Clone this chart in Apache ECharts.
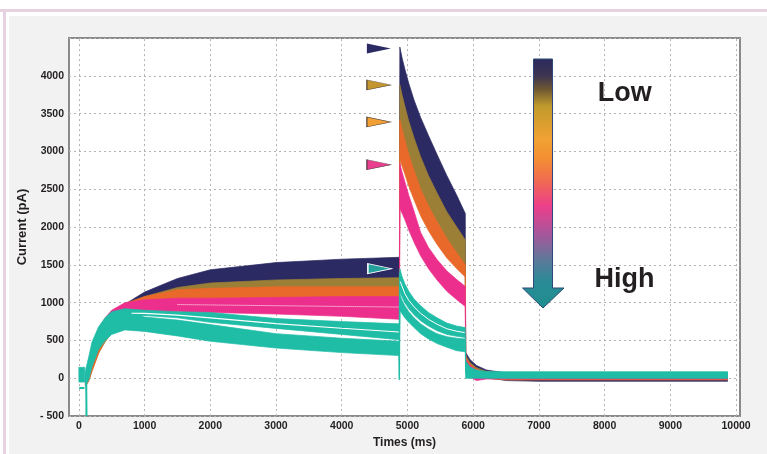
<!DOCTYPE html>
<html><head><meta charset="utf-8">
<script src="https://cdn.jsdelivr.net/npm/echarts@6/dist/echarts.min.js"></script>
<style>html,body{margin:0;padding:0;background:#fff}#c{width:767px;height:454px}</style>
</head><body><div id="c"></div>
<script>
// ---- data ----
const times = [100,150,200,300,400,500,700,1000,1500,2000,3000,4000,4878,
  4884,4920,4960,5020,5100,5200,5320,5450,5600,5750,5880,
  5886,5950,6050,6200,6500,7000,8000,9000,9870];
const navyLo = [-60,20,150,380,520,620,780,950,1100,1200,1270,1300,1320,
  3850,3700,3560,3360,3130,2880,2620,2380,2130,1940,1780,
  200,120,60,10,-30,-40,-40,-40,-40];
const navyHi = [40,180,400,620,760,850,980,1140,1320,1435,1530,1575,1600,
  4380,4230,4090,3900,3680,3450,3210,2960,2680,2420,2180,
  340,250,170,110,70,65,65,65,65];
const goldLo = [-100,-30,100,330,480,600,760,900,1020,1080,1150,1190,1200,
  3380,3250,3120,2930,2720,2490,2270,2060,1840,1650,1490,
  150,90,40,0,-20,-20,-20,-20,-20];
const goldHi = [0,120,330,580,730,830,960,1080,1200,1260,1300,1320,1330,
  3880,3740,3600,3400,3180,2930,2680,2450,2200,2000,1830,
  300,210,140,90,70,65,65,65,65];
const orangeLo = [-110,-40,90,330,500,620,800,900,980,1010,1040,1040,1040,
  2900,2800,2700,2540,2360,2150,1950,1770,1590,1450,1340,
  120,60,20,0,-20,-20,-20,-20,-20];
const orangeHi = [-10,110,330,590,760,870,990,1080,1170,1190,1210,1210,1210,
  3420,3290,3150,2960,2750,2500,2280,2070,1850,1660,1500,
  280,190,120,80,70,70,70,70,70];
const pinkLo = [-80,20,180,400,560,680,820,870,880,870,850,820,780,
  2250,2180,2100,1960,1800,1620,1450,1300,1150,1040,950,
  80,20,-30,-10,-10,-10,-10,-10,-10];
const pinkHi = [40,200,420,650,800,900,1000,1040,1060,1060,1070,1080,1080,
  2840,2720,2600,2420,2210,1930,1730,1570,1420,1305,1215,
  250,170,110,80,75,75,75,75,75];
const tealUpLo = [-40,50,250,450,580,680,780,830,800,740,660,580,510,
  1150,1070,1000,920,840,760,690,630,580,555,540,
  60,40,20,10,5,5,5,5,5];
const tealUpHi = [100,280,480,680,800,880,920,900,880,870,790,750,720,
  1450,1340,1250,1150,1050,960,870,800,730,690,670,
  230,150,110,90,85,85,85,85,85];
const tealMainLo = [-100,-20,150,380,500,580,640,620,560,490,400,340,300,
  900,850,800,740,670,590,520,460,410,365,350,
  0,0,0,0,0,0,0,0,0];
const tealMainHi = [60,230,430,620,740,820,870,810,770,710,590,530,490,
  1100,1030,960,880,800,720,650,590,550,530,520,
  200,140,90,80,80,80,80,80,80];
const tealStartT = [0, 90];
const tealStartLo = [-50, -50];
const tealStartHi = [145, 145];
const tealDash = [[5,-128],[85,-128]];
const tealSpike1 = [[112,-60],[116,-500]];
const tealSpike2 = [[4870,480],[4876,-20],[4882,1400]];
const tealStreakPre = [[800,860],[1000,858],[1500,835],[2000,800],[3000,722],[4000,662],[4870,612]];
const tealStreakPost = [[4890,1280],[4960,1120],[5020,1030],[5100,945],[5200,860],[5320,780],[5450,715],[5600,655],[5750,622],[5870,605]];
const pinkStreak = [[1500,975],[2000,970],[3000,960],[4000,950],[4870,942]];
const xTicks = [0,1000,2000,3000,4000,5000,6000,7000,8000,9000,10000];
const markerX = [4565,4565,4565,4565,4580];
const markerY = [4360,3880,3390,2825,1450];

// ---- styling ----
const C = {navy:'#2b2a63', gold:'#9b7f37', orange:'#e9692a', pink:'#ec2f8c', teal:'#1fbca6'};
const markerColors = ['#2b2a63','#c4962f','#f2a035','#e8408f','#26a09b'];
const markerBorders = ['#2b2a63','#3a3030','#3a3030','#3a3030','#ffffff'];
const markerBW = [0,0.7,0.7,0.7,1];
const FONT = 'Liberation Sans';

function band(t, lo, hi, color) {
  return {
    type:'custom', z:2, silent:true,
    data: t.map((x,i)=>[x, lo[i], hi[i]]),
    encode:{x:0, y:[1,2]},
    renderItem(params, api) {
      if (params.dataIndex !== 0) return null;
      const pts = [];
      for (let i=0;i<t.length;i++) pts.push(api.coord([t[i], hi[i]]));
      for (let i=t.length-1;i>=0;i--) pts.push(api.coord([t[i], lo[i]]));
      return {type:'polygon', shape:{points:pts}, style:{fill:color, stroke:color, lineWidth:0.7}};
    }
  };
}
function line(data, color, width, type) {
  return {type:'line', z:3, silent:true, data, symbol:'none', lineStyle:{color, width, type: type||'solid'}};
}

const chart = echarts.init(document.getElementById('c'), null, {renderer:'canvas'});
const option = {
  animation:false,
  backgroundColor:'#f1f2f1',
  grid:{left:69, right:27, top:38, bottom:33, show:true, backgroundColor:'#ffffff', borderColor:'#8a8a8a', borderWidth:2},
  xAxis:{
    type:'value', min:-150, max:10060,
    name:'Times (ms)', nameLocation:'middle', nameGap:15,
    nameTextStyle:{fontFamily:FONT, fontWeight:'bold', fontSize:12, color:'#231f20'},
    axisLine:{show:false}, axisTick:{show:false}, splitLine:{show:false},
    axisLabel:{customValues:xTicks, margin:5, fontFamily:FONT, fontWeight:'bold', fontSize:10.5, color:'#231f20',
      formatter:v => String(v)}
  },
  yAxis:{
    type:'value', min:-500, max:4500, interval:500,
    name:'Current (pA)', nameLocation:'middle', nameGap:33,
    nameTextStyle:{fontFamily:FONT, fontWeight:'bold', fontSize:13, color:'#231f20'},
    axisLine:{show:false}, axisTick:{show:false},
    splitLine:{show:true, lineStyle:{type:[2,3], color:'#b3b3b3', width:1}},
    axisLabel:{margin:5, fontFamily:FONT, fontWeight:'bold', fontSize:10.5, color:'#231f20',
      formatter:v => v===4500 ? '' : (v<0 ? '- '+(-v) : String(v))}
  },
  series:[
    {type:'line', z:1, silent:true, data:[[0,0]], symbol:'none', lineStyle:{opacity:0},
     markLine:{z:1, silent:true, symbol:['none','none'], label:{show:false}, animation:false,
       lineStyle:{type:[2,3], color:'#b3b3b3', width:1}, data:xTicks.map(v=>({xAxis:v}))}},
    band(times, navyLo, navyHi, C.navy),
    band(times, goldLo, goldHi, C.gold),
    band(times, orangeLo, orangeHi, C.orange),
    band(times, pinkLo, pinkHi, C.pink),
    band(times, tealUpLo, tealUpHi, C.teal),
    band(times, tealMainLo, tealMainHi, C.teal),
    band(tealStartT, tealStartLo, tealStartHi, C.teal),
    line(tealDash, C.teal, 2),
    line(tealSpike1, C.teal, 2),
    line(tealSpike2, C.teal, 1.5),
    line(tealStreakPre, '#ffffff', 1.2),
    line(tealStreakPost, '#ffffff', 1),
    line(pinkStreak, '#ffffff', 1, 'dotted'),
    {type:'scatter', z:6, silent:true, symbol:'path://M0,0L24,5L0,10Z', symbolSize:[24,10],
     data: markerY.map((y,i)=>({value:[markerX[i], y], itemStyle:{color:markerColors[i], borderColor:markerBorders[i], borderWidth:markerBW[i], opacity:1}}))}
  ],
  graphic:[
    {type:'rect', z:50, shape:{x:0,y:0,width:767,height:16}, style:{fill:'#ffffff'}},
    {type:'rect', z:50, shape:{x:0,y:0,width:9,height:454}, style:{fill:'#ffffff'}},
    {type:'rect', z:51, shape:{x:0,y:9,width:767,height:3}, style:{fill:'#e8d2e2'}},
    {type:'rect', z:51, shape:{x:3,y:9,width:3,height:445}, style:{fill:'#e8d2e2'}},
    {type:'polygon', z:100,
     shape:{points:[[533.5,59],[552.5,59],[552.5,288],[564,288],[543,308],[522.5,288],[533.5,288]]},
     style:{stroke:'#2d4a78', lineWidth:1,
       fill:new echarts.graphic.LinearGradient(0,0,0,1,[
         {offset:0,color:'#2b2a5e'},{offset:0.07,color:'#3d3550'},{offset:0.12,color:'#6a5532'},
         {offset:0.19,color:'#c09a2c'},{offset:0.32,color:'#f0a232'},{offset:0.40,color:'#f38f32'},
         {offset:0.49,color:'#f06a52'},{offset:0.59,color:'#ec3f8a'},{offset:0.70,color:'#a8559a'},
         {offset:0.81,color:'#5a7a9a'},{offset:0.89,color:'#2a8a96'},{offset:1,color:'#1e8f8f'}])}},
    {type:'text', z:100, x:624.7, y:93.5, style:{text:'Low', fontFamily:FONT, fontWeight:'bold', fontSize:27, fill:'#231f20', align:'center', verticalAlign:'middle'}},
    {type:'text', z:100, x:624.5, y:280, style:{text:'High', fontFamily:FONT, fontWeight:'bold', fontSize:27, fill:'#231f20', align:'center', verticalAlign:'middle'}}
  ]
};
chart.setOption(option);
</script></body></html>
